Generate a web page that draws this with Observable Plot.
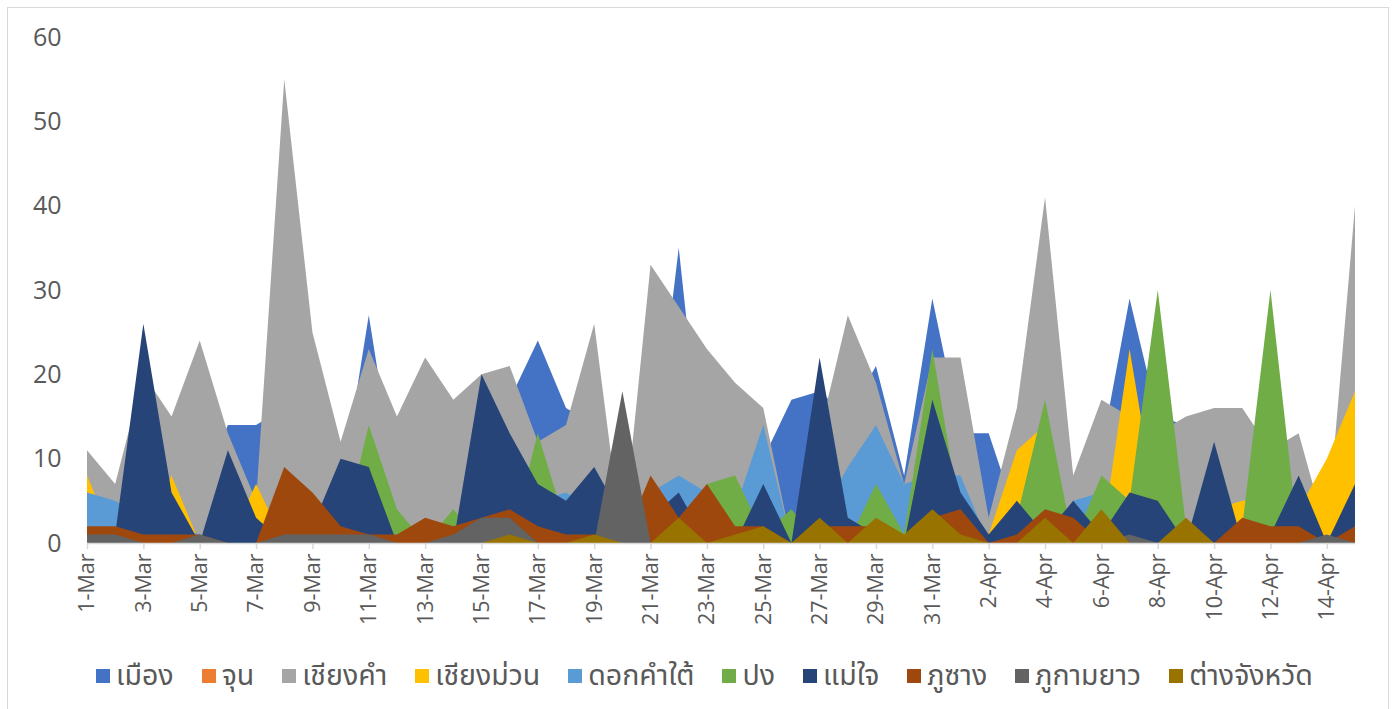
<!DOCTYPE html>
<html>
<head>
<meta charset="utf-8">
<script src="https://cdn.jsdelivr.net/npm/d3@7"></script>
<script src="https://cdn.jsdelivr.net/npm/@observablehq/plot@0.6"></script>
<style>
  html, body { margin: 0; padding: 0; background: #ffffff; }
  #wrap { position: relative; width: 1397px; height: 709px; overflow: hidden;
          font-family: "Noto Sans Thai", "Noto Sans", "Open Sans", "DejaVu Sans", sans-serif; }
  #frame { position: absolute; left: 7px; top: 7px; width: 1382px; height: 710px;
           border: 1px solid #d9d9d9; box-sizing: border-box; }
  #chart { position: absolute; left: 0; top: 0; }
  #legend { position: absolute; left: 6px; width: 1397px; top: 655px; height: 42px;
            display: flex; justify-content: center; align-items: center; gap: 28px;
            font-size: 28.5px; color: #595959; }
  .item { display: flex; align-items: center; gap: 6px; white-space: nowrap; }
  .sw { width: 14px; height: 14px; display: inline-block; }
</style>
</head>
<body>
<div id="wrap">
  <div id="frame"></div>
  <div id="chart"></div>
  <div id="legend"></div>
</div>
<script>
// Category labels (one per day)
const dateLabels = [
  "1-Mar","2-Mar","3-Mar","4-Mar","5-Mar","6-Mar","7-Mar","8-Mar","9-Mar","10-Mar",
  "11-Mar","12-Mar","13-Mar","14-Mar","15-Mar","16-Mar","17-Mar","18-Mar","19-Mar","20-Mar",
  "21-Mar","22-Mar","23-Mar","24-Mar","25-Mar","26-Mar","27-Mar","28-Mar","29-Mar","30-Mar",
  "31-Mar","1-Apr","2-Apr","3-Apr","4-Apr","5-Apr","6-Apr","7-Apr","8-Apr","9-Apr",
  "10-Apr","11-Apr","12-Apr","13-Apr","14-Apr","15-Apr"
];
const yTicks = [0, 10, 20, 30, 40, 50, 60];

// Series names and colours (drawing order)
const seriesNames = ["เมือง","จุน","เชียงคำ","เชียงม่วน","ดอกคำใต้","ปง","แม่ใจ","ภูซาง","ภูกามยาว","ต่างจังหวัด"];
const seriesColors = ["#4472C4","#ED7D31","#A5A5A5","#FFC000","#5B9BD5","#70AD47","#264478","#9E480E","#636363","#997300"];

// Values
const mueang      = [3,2,10,8,6,14,14,16,12,6, 27,6,8,10,12,17,24,16,14,4, 7,35,4,8,10,17,18,15,21,8, 29,13,13,3,6,6,11,29,15,14, 8,10,6,8,4,10];
const chun        = [0,0,0,0,0,0,0,0,0,0, 0,0,0,0,0,0,0,0,0,0, 0,0,0,0,0,0,0,0,0,0, 0,0,0,0,0,0,0,0,0,0, 0,0,0,0,0,0];
const chiangkham  = [11,7,20,15,24,13,5,55,25,12, 23,15,22,17,20,21,12,14,26,0, 33,28,23,19,16,0,13,27,19,7, 22,22,3,16,41,8,17,15,13,15, 16,16,11,13,1,40];
const chiangmuan  = [8,0,0,8,0,0,7,0,0,0, 0,0,0,0,0,0,0,0,0,0, 0,0,0,0,0,0,0,0,0,0, 0,5,1,11,14,0,0,23,3,0, 4,5,5,4,10,18];
const dokkhamtai  = [6,5,3,2,1,0,2,0,0,0, 0,0,0,0,0,0,5,6,4,0, 6,8,6,4,14,0,3,9,14,7, 8,8,0,0,0,5,6,0,0,0, 0,0,0,0,0,0];
const pong        = [0,0,0,0,0,0,0,0,0,0, 14,4,0,4,0,0,13,2,0,0, 0,0,7,8,1,4,0,0,7,1, 23,3,0,3,17,0,8,5,30,2, 0,2,30,0,0,0];
const maechai     = [0,1,26,6,0,11,3,0,2,10, 9,0,0,0,20,13,7,5,9,3, 3,6,0,0,7,0,22,3,1,0, 17,6,1,5,1,5,1,6,5,0, 12,0,1,8,0,7];
const phusang     = [2,2,1,1,1,0,0,9,6,2, 1,1,3,2,3,4,2,1,1,0, 8,3,7,2,2,0,2,2,2,0, 3,4,0,1,4,3,0,0,0,0, 0,3,2,2,0,2];
const phukamyao   = [1,1,0,0,1,0,0,1,1,1, 1,0,0,1,3,3,0,0,0,18, 0,0,0,0,0,0,0,0,0,0, 0,0,0,0,0,0,0,1,0,0, 0,0,0,0,1,0];
const tangchangwat= [0,0,0,0,0,0,0,0,0,0, 0,0,0,0,0,1,0,0,1,0, 0,3,0,1,2,0,3,0,3,1, 4,1,0,0,3,0,4,0,0,3, 0,0,0,0,0,0];

const seriesValues = [mueang, chun, chiangkham, chiangmuan, dokkhamtai, pong, maechai, phusang, phukamyao, tangchangwat];

const tables = seriesValues.map((vals, k) =>
  vals.map((v, i) => ({i, label: dateLabels[i], value: v, series: seriesNames[k]}))
);

const tickIdx = dateLabels.map((d, i) => i).filter(i => i % 2 === 0);

const marks = tables.map((rows, k) =>
  Plot.areaY(rows, {x: "i", y: "value", fill: seriesColors[k], curve: "linear"})
);

const chart = Plot.plot({
  width: 1397,
  height: 640,
  marginLeft: 87,
  marginRight: 42,
  marginTop: 37,
  marginBottom: 97,
  style: {fontFamily: "'Open Sans', 'DejaVu Sans', sans-serif", fontSize: "22px", color: "#595959", background: "transparent", overflow: "visible"},
  x: {type: "linear", domain: [0, dateLabels.length - 1]},
  y: {domain: [0, 60]},
  marks: [
    ...marks,
    Plot.ruleY([0], {stroke: "#d9d9d9", strokeWidth: 1.5}),
    Plot.axisY({ticks: yTicks, tickSize: 0, tickPadding: 26, label: null, fontSize: 25}),
    Plot.axisX({ticks: tickIdx, tickFormat: i => dateLabels[i], tickRotate: -90, tickSize: 6, tickPadding: 4, label: null, fontSize: 21.5})
  ]
});

document.getElementById("chart").appendChild(chart);
d3.select(chart).selectAll('[aria-label="x-axis tick"]').attr("stroke", "#d9d9d9").attr("stroke-width", 1.5);

const legend = document.getElementById("legend");
seriesNames.forEach((name, k) => {
  const item = document.createElement("div");
  item.className = "item";
  const sw = document.createElement("span");
  sw.className = "sw";
  sw.style.background = seriesColors[k];
  const t = document.createElement("span");
  t.textContent = name;
  item.appendChild(sw);
  item.appendChild(t);
  legend.appendChild(item);
});
</script>
</body>
</html>
